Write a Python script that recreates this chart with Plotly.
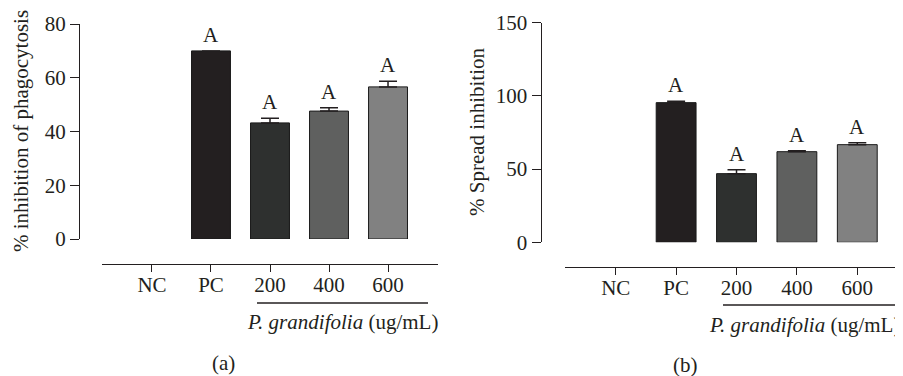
import plotly.graph_objects as go

# page has an 8px body margin; the figure fills the rest of the 903x376 window
PAGE_W, PAGE_H = 903, 376
OFF = 8
W, H = PAGE_W - OFF, PAGE_H - OFF

categories = ["NC", "PC", "200", "400", "600"]
phago_values = [None, 70.0, 43.2, 47.6, 56.6]
phago_err = [0, 0, 1.7, 1.2, 2.1]
spread_values = [None, 95.4, 46.9, 61.9, 66.7]
spread_err = [0, 0.9, 2.7, 0.7, 1.3]
bar_colors = ["#ffffff", "#231f20", "#2e302f", "#5f605f", "#818181"]
letters = ["", "A", "A", "A", "A"]
phago_ticks = [0, 20, 40, 60, 80]
spread_ticks = [0, 50, 100, 150]

FONT = "Liberation Serif"
TXT = "#231f20"
FS = 21

def px(x):
    return (x - OFF) / W

def py(y):
    return (PAGE_H - y) / H

idx = list(range(len(categories)))

fig = go.Figure()

fig.add_trace(go.Bar(
    x=idx, y=phago_values, xaxis="x", yaxis="y",
    marker=dict(color=bar_colors, line=dict(color="#1a1a1a", width=1)),
    error_y=dict(type="data", symmetric=False, array=phago_err,
                 arrayminus=[0] * 5, color="#231f20", thickness=1.5, width=9),
    width=0.66, showlegend=False, hoverinfo="skip",
))
fig.add_trace(go.Bar(
    x=idx, y=spread_values, xaxis="x2", yaxis="y2",
    marker=dict(color=bar_colors, line=dict(color="#1a1a1a", width=1)),
    error_y=dict(type="data", symmetric=False, array=spread_err,
                 arrayminus=[0] * 5, color="#231f20", thickness=1.5, width=9),
    width=0.66, showlegend=False, hoverinfo="skip",
))

annotations = []
for i in idx:
    if phago_values[i] is not None and letters[i]:
        annotations.append(dict(x=i, y=phago_values[i] + phago_err[i], xref="x", yref="y",
                                text=letters[i], showarrow=False, yanchor="bottom", yshift=2,
                                font=dict(family=FONT, size=FS, color=TXT)))
    if spread_values[i] is not None and letters[i]:
        annotations.append(dict(x=i, y=spread_values[i] + spread_err[i], xref="x2", yref="y2",
                                text=letters[i], showarrow=False, yanchor="bottom", yshift=2,
                                font=dict(family=FONT, size=FS, color=TXT)))

label_font = dict(family=FONT, size=FS, color=TXT)
annotations += [
    dict(x=px(21), y=py(131), xref="paper", yref="paper", text="% inhibition of phagocytosis",
         textangle=-90, showarrow=False, font=label_font, xanchor="center", yanchor="middle"),
    dict(x=px(477), y=py(132), xref="paper", yref="paper", text="% Spread inhibition",
         textangle=-90, showarrow=False, font=label_font, xanchor="center", yanchor="middle"),
    dict(x=px(342), y=py(322), xref="paper", yref="paper",
         text="<i>P. grandifolia</i> (ug/mL)", showarrow=False, font=label_font,
         xanchor="center", yanchor="middle"),
    dict(x=px(902), y=py(325), xref="paper", yref="paper",
         text="<i>P. grandifolia</i> (ug/mL)", showarrow=False, font=label_font,
         xanchor="right", yanchor="middle"),
    dict(x=px(223), y=py(363), xref="paper", yref="paper", text="(a)", showarrow=False,
         font=label_font, xanchor="center", yanchor="middle"),
    dict(x=px(685), y=py(365), xref="paper", yref="paper", text="(b)", showarrow=False,
         font=label_font, xanchor="center", yanchor="middle"),
]

shapes = [
    dict(type="line", xref="paper", yref="paper", x0=px(257), x1=px(428), y0=py(303), y1=py(303),
         line=dict(color=TXT, width=1.3)),
    dict(type="line", xref="paper", yref="paper", x0=px(723), x1=px(898), y0=py(305), y1=py(305),
         line=dict(color=TXT, width=1.3)),
]

axis_common = dict(showline=True, linecolor=TXT, linewidth=1.3, ticks="outside",
                   tickcolor=TXT, tickwidth=1.3, showgrid=False, zeroline=False,
                   automargin=False,
                   tickfont=dict(family=FONT, size=FS, color=TXT))

fig.update_layout(
    width=W, height=H, margin=dict(l=0, r=0, t=0, b=0, pad=0, autoexpand=False),
    autosize=False,
    paper_bgcolor="white", plot_bgcolor="white",
    xaxis=dict(domain=[px(102), px(438)], range=[-0.847, 4.847], anchor="free",
               position=py(264), tickmode="array", tickvals=idx, ticktext=categories,
               ticklen=7, ticklabelstandoff=-5, **axis_common),
    yaxis=dict(domain=[py(239), py(24)], range=[0, 80], anchor="free", position=px(79),
               tickvals=phago_ticks, ticklen=9, **axis_common),
    xaxis2=dict(domain=[px(565), 1.0], range=[-0.84, 4.757], anchor="free",
                position=py(266.7), tickmode="array", tickvals=idx, ticktext=categories,
                ticklen=7, ticklabelstandoff=-5, **axis_common),
    yaxis2=dict(domain=[py(242.3), py(22.7)], range=[0, 150], anchor="free", position=px(540.7),
                tickvals=spread_ticks, ticklen=9, **axis_common),
    annotations=annotations,
    shapes=shapes,
    bargap=0.34,
)

fig.write_html("out.html")
